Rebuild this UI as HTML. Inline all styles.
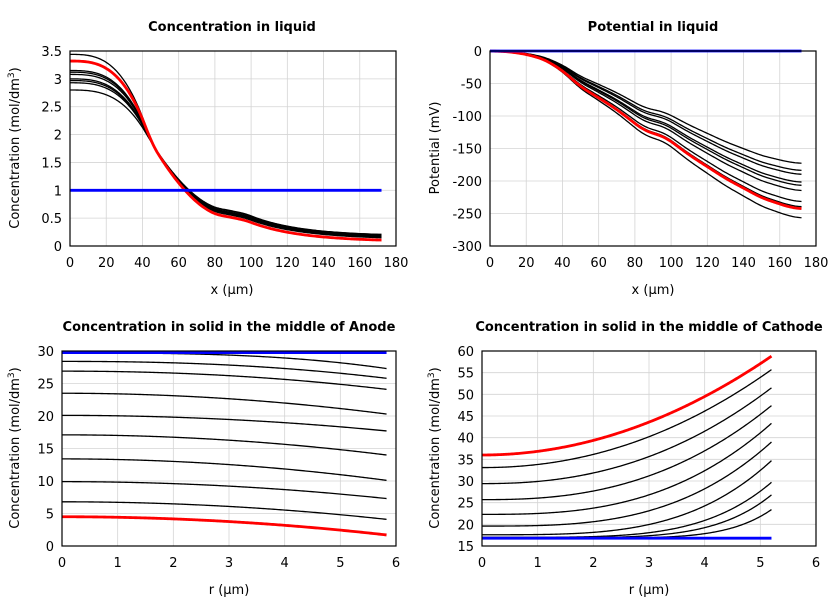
<!DOCTYPE html>
<html><head><meta charset="utf-8">
<style>
html,body{margin:0;padding:0;background:#fff;}
svg{display:block;font-family:"DejaVu Sans","Liberation Sans",sans-serif;}
</style></head>
<body>
<svg id="s" width="840" height="600" viewBox="0 0 840 600" xmlns="http://www.w3.org/2000/svg">
<text x="232" y="31" font-size="13" font-weight="bold" text-anchor="middle">Concentration in liquid</text>
<text x="653" y="31" font-size="13" font-weight="bold" text-anchor="middle">Potential in liquid</text>
<text x="229" y="331" font-size="13" font-weight="bold" text-anchor="middle">Concentration in solid in the middle of Anode</text>
<text x="649" y="331" font-size="13" font-weight="bold" text-anchor="middle">Concentration in solid in the middle of Cathode</text>
<text x="232" y="294" font-size="13" text-anchor="middle">x (µm)</text>
<text x="653" y="294" font-size="13" text-anchor="middle">x (µm)</text>
<text x="229" y="594" font-size="13" text-anchor="middle">r (µm)</text>
<text x="649" y="594" font-size="13" text-anchor="middle">r (µm)</text>
<text transform="translate(19,148) rotate(-90)" font-size="13" text-anchor="middle">Concentration (mol/dm<tspan font-size="9" dy="-5">3</tspan><tspan dy="5">)</tspan></text>
<text transform="translate(439,148) rotate(-90)" font-size="13" text-anchor="middle">Potential (mV)</text>
<text transform="translate(19,448) rotate(-90)" font-size="13" text-anchor="middle">Concentration (mol/dm<tspan font-size="9" dy="-5">3</tspan><tspan dy="5">)</tspan></text>
<text transform="translate(439,448) rotate(-90)" font-size="13" text-anchor="middle">Concentration (mol/dm<tspan font-size="9" dy="-5">3</tspan><tspan dy="5">)</tspan></text>
<g id="g"></g>
</svg>
<script>
var g=document.getElementById('g');var out='';
function plot(P){
 var sx=function(v){return P.x0+(v-P.xmin)/(P.xmax-P.xmin)*(P.x1-P.x0)};
 var sy=function(v){return P.y1-(v-P.ymin)/(P.ymax-P.ymin)*(P.y1-P.y0)};
 P.sx=sx;P.sy=sy;
 for(var i=0;i<P.xt.length;i++){var X=sx(P.xt[i]);out+='<line x1="'+X+'" y1="'+P.y0+'" x2="'+X+'" y2="'+P.y1+'" stroke="#d4d4d4" stroke-width="0.8"/>';
  out+='<text x="'+X+'" y="'+(P.y1+21)+'" font-size="13" text-anchor="middle">'+P.xt[i]+'</text>';}
 for(var i=0;i<P.yt.length;i++){var Y=sy(P.yt[i]);out+='<line x1="'+P.x0+'" y1="'+Y+'" x2="'+P.x1+'" y2="'+Y+'" stroke="#d4d4d4" stroke-width="0.8"/>';
  out+='<text x="'+(P.x0-8)+'" y="'+(Y+5)+'" font-size="13" text-anchor="end">'+P.yt[i]+'</text>';}
}
function line(P,f,xa,xb,col,w){var d='';for(var i=0;i<=240;i++){var x=xa+(xb-xa)*i/240;d+=(i?'L':'M')+P.sx(x).toFixed(2)+' '+P.sy(f(x)).toFixed(2);}
 out+='<path d="'+d+'" fill="none" stroke="'+col+'" stroke-width="'+w+'"/>';}
function box(P){out+='<rect x="'+P.x0+'" y="'+P.y0+'" width="'+(P.x1-P.x0)+'" height="'+(P.y1-P.y0)+'" fill="none" stroke="#000" stroke-width="1.2"/>';}
function smooth(f,h){return function(x){var s=0,n=0;for(var d=-h;d<=h;d+=1){s+=f(Math.max(0,Math.min(172,x+d)));n++;}return s/n;}}
// Plot 1
var A={x0:70,x1:396,y0:51,y1:246,xmin:0,xmax:180,ymin:0,ymax:3.5,xt:[0,20,40,60,80,100,120,140,160,180],yt:[0,0.5,1,1.5,2,2.5,3,3.5]};
plot(A);
function conc(c0,m85,ce){return smooth(function(x){
 if(x<=45)return 1.85+(c0-1.85)*(1-Math.pow(x/45,3));
 if(x<=85){var t=(x-45)/40;return m85+(1.85-m85)*Math.pow(1-t,1.7);}
 var m97=m85-0.08;
 if(x<=97)return m85+(m97-m85)*(x-85)/12;
 return ce+(m97-ce)*Math.exp(-(x-97)/28);},3);}
var L1=[[3.44,0.6,0.14],[3.15,0.62,0.16],[3.12,0.6,0.15],[3.08,0.58,0.13],[3.0,0.65,0.18],[2.97,0.63,0.17],[2.93,0.61,0.12],[2.8,0.66,0.18]];
L1.forEach(function(c){line(A,conc(c[0],c[1],c[2]),0,172,'#000',1.3)});
line(A,conc(3.32,0.54,0.08),0,172,'#f00',2.8);
line(A,function(){return 1},0,172,'#00f',2.8);
box(A);
// Plot 2
var B={x0:490,x1:816,y0:51,y1:246,xmin:0,xmax:180,ymin:-300,ymax:0,xt:[0,20,40,60,80,100,120,140,160,180],yt:[0,-50,-100,-150,-200,-250,-300]};
plot(B);
var K=[[0,0],[10,-1],[20,-5],[30,-13],[40,-30],[50,-55],[60,-72],[70,-90],[85,-122],[97,-133],[110,-160],[130,-196],[150,-226],[165,-240],[172,-243]];
function interp(x){for(var i=1;i<K.length;i++){if(x<=K[i][0]){var a=K[i-1],b=K[i];var t=(x-a[0])/(b[0]-a[0]);return a[1]+(b[1]-a[1])*t;}}return K[K.length-1][1];}
var sm=smooth(interp,4);
[-173,-184,-190,-202,-207,-215,-232,-240,-257].forEach(function(e){var k=e/-243;line(B,function(x){return sm(x)*k},0,172,'#000',1.3)});
line(B,sm,0,172,'#f00',2.8);
line(B,function(){return 0},0,172,'#00f',2.8);
box(B);
// Plot 3
var C={x0:62,x1:396,y0:351,y1:546,xmin:0,xmax:6,ymin:0,ymax:30,xt:[0,1,2,3,4,5,6],yt:[0,5,10,15,20,25,30]};
plot(C);
[[29.7,27.3,3],[28.4,25.8,2.3],[26.9,24.1,2.1],[23.5,20.3,2],[20.1,17.7,2],[17.1,14.0,2],[13.4,10.1,2],[9.9,7.3,2],[6.8,4.1,2]].forEach(function(c){
 line(C,function(r){return c[0]-(c[0]-c[1])*Math.pow(r/5.83,c[2])},0,5.83,'#000',1.3)});
line(C,function(r){return 4.5-2.8*Math.pow(r/5.83,2)},0,5.83,'#f00',2.8);
line(C,function(){return 29.75},0,5.83,'#00f',2.8);
box(C);
// Plot 4
var D={x0:482,x1:816,y0:351,y1:546,xmin:0,xmax:6,ymin:15,ymax:60,xt:[0,1,2,3,4,5,6],yt:[15,20,25,30,35,40,45,50,55,60]};
plot(D);
[[33.1,55.7,2.1],[29.4,51.5,2.3],[25.7,47.4,2.5],[22.3,43.3,2.8],[19.6,39,3.1],[17.6,34.7,3.6],[17,29.7,4.5],[16.9,26.8,5.5],[16.8,23.4,7]].forEach(function(c){
 line(D,function(r){return c[0]+(c[1]-c[0])*Math.pow(r/5.2,c[2])},0,5.2,'#000',1.3)});
line(D,function(r){return 36+22.8*Math.pow(r/5.2,2)},0,5.2,'#f00',2.8);
line(D,function(){return 16.8},0,5.2,'#00f',2.8);
box(D);
g.innerHTML=out;
</script>
</body></html>
